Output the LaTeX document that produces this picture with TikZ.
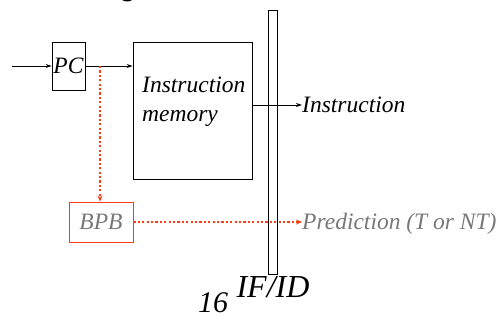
\documentclass[tikz,border=0pt]{standalone}
\usepackage{fontspec}
\setmainfont{Liberation Serif}
\newfontfamily\tmsit{Liberation Serif Italic}
\usetikzlibrary{arrows.meta}
\definecolor{bpbred}{RGB}{255,60,20}
\definecolor{predgray}{RGB}{120,120,120}
\begin{document}
\begin{tikzpicture}[x=1pt,y=-1pt,
  box/.style={draw,line width=0.9pt,inner sep=0pt},
  lbl/.style={font=\tmsit\fontsize{23.5}{28}\selectfont,inner sep=0pt},
  blk/.style={line width=0.9pt,-{Stealth[length=6pt,width=4pt]}},
  red/.style={bpbred,line width=1.6pt,dash pattern=on 2.2pt off 2.2pt,-{Stealth[length=6pt,width=5pt]}}]
\useasboundingbox (0,0) rectangle (503,320);
\begin{scope}
\clip (0,0) rectangle (503,320);
\node[font=\tmsit\fontsize{30}{30}\selectfont,anchor=base] (title) at (130,-4) {g};
\end{scope}
\coordinate (in) at (12,66);
\node[box,minimum width=33pt,minimum height=48pt] (pc) at (68.5,66) {};
\node[lbl] (pctxt) at (68.5,66) {PC};
\node[box,minimum width=119pt,minimum height=137pt] (im) at (192.5,110.5) {};
\node[lbl,align=left,anchor=west,font=\tmsit\fontsize{23.5}{29}\selectfont] (imtxt) at (142,102) {Instruction\\memory};
\node[box,minimum width=9pt,minimum height=264pt] (reg) at (272.5,142) {};
\node[lbl,anchor=west] (instr) at (302,105) {Instruction};
\node[draw=bpbred,line width=0.9pt,minimum width=64pt,minimum height=40pt,inner sep=0pt] (bpb) at (101,222) {};
\node[lbl,text=predgray] (bpbtxt) at (101,222) {BPB};
\node[lbl,anchor=west,text=predgray] (pred) at (302,224) {Prediction (T or NT)};
\node[font=\tmsit\fontsize{30}{30}\selectfont,anchor=base,inner sep=0pt] (sixteen) at (213,312) {16};
\node[font=\tmsit\fontsize{32}{32}\selectfont,anchor=base,inner sep=0pt] (ifid) at (273,298) {IF/ID};
\draw[blk] (in) -- (pc.west);
\draw[blk] (pc.east) -- (im.west |- pc.east);
\draw[blk] (im.east |- instr.west) -- (instr.west);
\coordinate (tap) at (100,66);
\draw[red] (tap) -- (bpb.north -| tap);
\draw[red] (bpb.east) -- (pred.west |- bpb.east);
\end{tikzpicture}
\end{document}
